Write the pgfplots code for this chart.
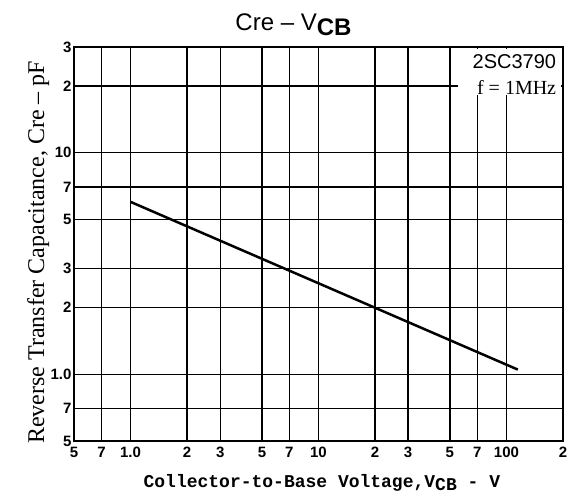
\documentclass[border=0pt]{standalone}
\usepackage{fontspec}
\setmainfont{Liberation Serif}
\setsansfont{Liberation Sans}
\setmonofont{Liberation Mono}
\usepackage{pgfplots}
\pgfplotsset{compat=1.18}
\begin{document}
\begin{tikzpicture}[x=0.6pt,y=0.6pt]
\begin{axis}[
  at={(0,0)}, anchor=south west,
  scale only axis,
  width=293.4pt, height=236.4pt,
  xmode=log, ymode=log,
  xmin=0.5, xmax=200, ymin=0.5, ymax=30,
  xtick={0.5,0.7,1,2,3,5,7,10,20,30,50,70,100,200},
  xticklabels={5,7,1.0,2,3,5,7,10,2,3,5,7,100,2},
  ytick={0.5,0.7,1,2,3,5,7,10,20,30},
  yticklabels={5,7,1.0,2,3,5,7,10,2,3},
  minor tick num=0,
  grid=major,
  major grid style={black, line width=0.8pt},
  axis line style={black, line width=1.1pt},
  major tick length=0pt,
  tick label style={font=\sffamily\bfseries\small},
  /pgf/number format/assume math mode=true,
  xticklabel style={yshift=0pt},
  yticklabel style={xshift=2pt},
  xlabel={\ttfamily\bfseries Collector-to-Base Voltage,V\raisebox{-0.4ex}{CB} - V},
  ylabel={Reverse Transfer Capacitance, Cre -- pF},
  xlabel style={font=\fontsize{10.8}{12}\selectfont, yshift=-3pt, xshift=2pt},
  ylabel style={font=\Large, yshift=-6pt, xshift=-5pt},
  title={\sffamily Cre -- V\raisebox{-0.4ex}{\bfseries CB}},
  title style={font=\Large, yshift=-3pt, xshift=-15pt},
  clip=false,
]
\addplot[black, line width=1.5pt] coordinates {(1.0,6.0) (115,1.05)};
\node[fill=white, inner sep=1pt, anchor=north east, minimum width=62pt, minimum height=28pt]
  at (rel axis cs:0.997,0.997) {};
\node[anchor=north east, inner sep=1pt, font=\sffamily\large]
  at (rel axis cs:0.99,0.985) {2SC3790};
\node[anchor=north east, inner sep=1pt, font=\rmfamily\large]
  at (rel axis cs:0.99,0.92) {f = 1MHz};
\end{axis}
\pgfresetboundingbox
\path[use as bounding box] (-74,-59) rectangle (507,441);
\end{tikzpicture}
\end{document}
